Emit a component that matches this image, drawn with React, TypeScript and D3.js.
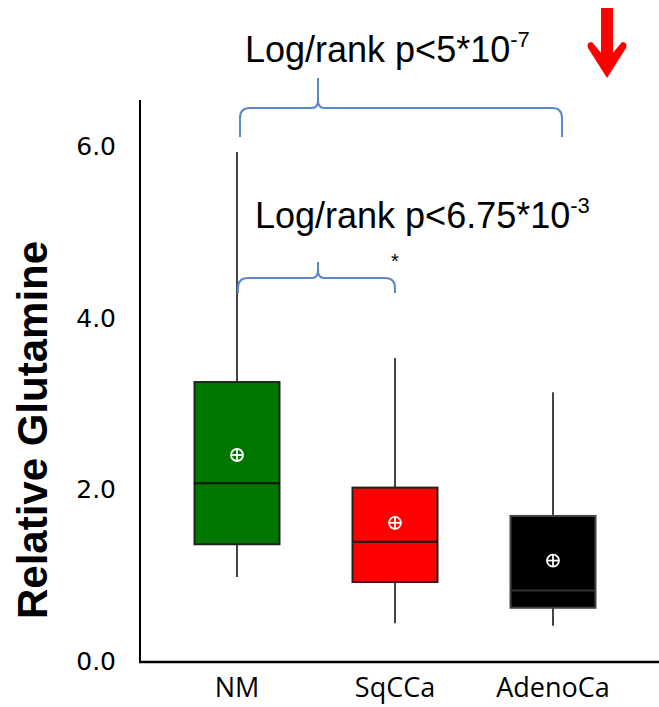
import * as d3 from "d3";

const categories = ["NM", "SqCCa", "AdenoCa"];
const whiskerLow = [0.98, 0.44, 0.41];
const q1 = [1.36, 0.92, 0.62];
const median = [2.07, 1.39, 0.82];
const q3 = [3.25, 2.02, 1.69];
const whiskerHigh = [5.93, 3.53, 3.13];
const means = [2.4, 1.61, 1.17];
const fills = ["#007800", "#ff0000", "#000000"];
const yTicks = [0, 2, 4, 6];

const WIDTH = 659;
const HEIGHT = 707;
const BLUE = "#5a88c8";

function brace(x1: number, x2: number, xm: number, yEnd: number, yLine: number, yPeak: number) {
  const r = Math.min(10, (yEnd - yLine));
  return `M${x1},${yEnd} L${x1},${yLine + r} Q${x1},${yLine} ${x1 + r},${yLine}
    L${xm - 6},${yLine} Q${xm},${yLine} ${xm},${yLine - 8} L${xm},${yPeak}
    M${xm},${yLine - 8} Q${xm},${yLine} ${xm + 6},${yLine}
    L${x2 - r},${yLine} Q${x2},${yLine} ${x2},${yLine + r} L${x2},${yEnd}`;
}

function App() {
  const y = d3.scaleLinear().domain([0, 6]).range([661, 146]);
  const x = d3.scalePoint().domain(categories).range([237, 553]);
  const boxW = 85;

  return (
    <svg width={WIDTH} height={HEIGHT} style={{ position: "absolute", left: 0, top: 0, background: "#fff" }}>
      {/* axes */}
      <line x1={140} x2={140} y1={100} y2={662} stroke="#000" strokeWidth={2} />
      <line x1={139} x2={659} y1={662} y2={662} stroke="#000" strokeWidth={2.5} />
      {yTicks.map((t) => (
        <text key={t} x={116} y={y(t)} dy="0.36em" textAnchor="end"
          fontFamily="DejaVu Sans" fontSize={25} fill="#000">{d3.format(".1f")(t)}</text>
      ))}
      {categories.map((c) => (
        <text key={c} x={x(c)} y={697} textAnchor="middle"
          fontFamily="Open Sans" fontSize={27} fill="#000">{c}</text>
      ))}
      <text transform="translate(47,430) rotate(-90)" textAnchor="middle"
        fontFamily="Liberation Sans" fontWeight="bold" fontSize={42} fill="#000">Relative Glutamine</text>

      {/* boxes */}
      {categories.map((c, i) => {
        const cx = x(c)!;
        return (
          <g key={c}>
            <line x1={cx} x2={cx} y1={y(whiskerHigh[i])} y2={y(whiskerLow[i])} stroke="#444" strokeWidth={2} />
            <rect x={cx - boxW / 2} y={y(q3[i])} width={boxW} height={y(q1[i]) - y(q3[i])}
              fill={fills[i]} stroke={i === 2 ? "#444" : "#222"} strokeWidth={2} />
            <line x1={cx - boxW / 2} x2={cx + boxW / 2} y1={y(median[i])} y2={y(median[i])}
              stroke={i === 2 ? "#333" : "#111"} strokeWidth={2} />
            <circle cx={cx} cy={y(means[i])} r={6} fill="none" stroke="#fff" strokeWidth={1.8} />
            <line x1={cx - 6} x2={cx + 6} y1={y(means[i])} y2={y(means[i])} stroke="#fff" strokeWidth={1.8} />
            <line x1={cx} x2={cx} y1={y(means[i]) - 6} y2={y(means[i]) + 6} stroke="#fff" strokeWidth={1.8} />
          </g>
        );
      })}

      {/* significance annotations */}
      <path d={brace(x("NM")! + 3, x("AdenoCa")! + 9, 318, 137, 108, 78)} fill="none" stroke={BLUE} strokeWidth={2} />
      <text x={245} y={62} fontFamily="Liberation Sans" fontSize={36} fill="#000">
        Log/rank p&lt;5*10<tspan dy={-15} fontSize={22}>-7</tspan>
      </text>
      <path d={brace(x("NM")! + 1, x("SqCCa")!, 318, 293, 278, 262)} fill="none" stroke={BLUE} strokeWidth={2} />
      <text x={255} y={228} fontFamily="Liberation Sans" fontSize={36} fill="#000">
        Log/rank p&lt;6.75*10<tspan dy={-15} fontSize={22}>-3</tspan>
      </text>
      <text x={395} y={268} textAnchor="middle" fontFamily="Liberation Sans" fontSize={20} fill="#000">*</text>

      {/* red arrow */}
      <g fill="#ff0000" stroke="none">
        <rect x={601} y={8} width={12} height={56} />
        <path d="M607,78 L588,48 Q586,42 592,42 L607,60 L622,42 Q628,42 626,48 Z" />
      </g>
    </svg>
  );
}

export default App;
